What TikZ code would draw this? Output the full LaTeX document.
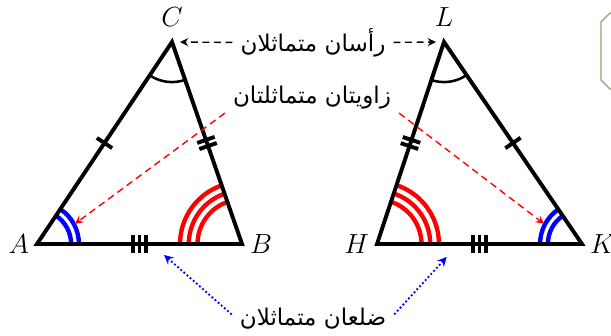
\documentclass[tikz,border=0pt]{standalone}
\usepackage{fontspec}
\newfontfamily\arabicfont[Script=Arabic]{DejaVu Sans}
\TeXXeTstate=1
\usetikzlibrary{calc,angles,decorations.markings}
\definecolor{boxline}{RGB}{160,154,110}
\tikzset{
  side/.style={line width=1.7pt, line join=miter},
  onetick/.style={decorate, decoration={markings,
    mark=at position 0.5 with {\draw[side] (0,-4pt) -- (0,4pt);}}},
  twotick/.style={decorate, decoration={markings,
    mark=at position 0.5 with {\draw[side] (-1.4pt,-4pt) -- (-1.4pt,4pt) (1.4pt,-4pt) -- (1.4pt,4pt);}}},
  threetick/.style={decorate, decoration={markings,
    mark=at position 0.5 with {\draw[side] (-3pt,-4pt) -- (-3pt,4pt) (0,-4pt) -- (0,4pt) (3pt,-4pt) -- (3pt,4pt);}}},
  blueangle/.style={draw=blue, line width=1.9pt},
  redangle/.style={draw=red, line width=1.9pt},
  topangle/.style={draw=black, line width=1.1pt, angle radius=17.4pt},
  vlabel/.style={font=\large},
  arlabel/.style={font=\arabicfont},
  blackarrow/.style={-stealth, densely dashed, line width=0.6pt, shorten >=3.5pt},
  redarrow/.style={-stealth, red, densely dashed, line width=0.6pt},
  bluearrow/.style={-stealth, blue, densely dotted, line width=0.8pt}
}
\begin{document}
\begin{tikzpicture}[x=0.434pt, y=0.434pt]
  \useasboundingbox (0,0) rectangle (611,336);
  % triangle ABC
  \coordinate (A) at (37,92);
  \coordinate (B) at (242,92);
  \coordinate (C) at (172,294);
  % triangle HKL
  \coordinate (H) at (377,92);
  \coordinate (K) at (582,92);
  \coordinate (L) at (444,294);

  % equal angles
  \pic[blueangle, angle radius=14.8pt] {angle=B--A--C};
  \pic[blueangle, angle radius=18.2pt] {angle=B--A--C};
  \pic[blueangle, angle radius=14.8pt] {angle=L--K--H};
  \pic[blueangle, angle radius=18.2pt] {angle=L--K--H};
  \foreach \r in {19.3,23.1,26.9}{
    \pic[redangle, angle radius=\r pt] {angle=C--B--A};
    \pic[redangle, angle radius=\r pt] {angle=K--H--L};
  }
  \pic[topangle] {angle=A--C--B};
  \pic[topangle] {angle=H--L--K};

  % sides
  \draw[side] (A) -- (B) -- (C) -- cycle;
  \path[onetick] (A) -- (C);
  \path[twotick] (C) -- (B);
  \path[threetick] (A) -- (B);
  \draw[side] (H) -- (K) -- (L) -- cycle;
  \path[onetick] (L) -- (K);
  \path[twotick] (H) -- (L);
  \path[threetick] (H) -- (K);

  \node[vlabel, left] (lA) at (A) {$A$};
  \node[vlabel, right] (lB) at (B) {$B$};
  \node[vlabel, above=3pt] (lC) at (C) {$C$};
  \node[vlabel, left] (lH) at (H) {$H$};
  \node[vlabel, right] (lK) at (K) {$K$};
  \node[vlabel, above=3pt] (lL) at (L) {$L$};

  % captions
  \node[arlabel] (top) at (313,293) {\beginR رأسان متماثلان\endR};
  \node[arlabel] (mid) at (312,238) {\beginR زاويتان متماثلتان\endR};
  \node[arlabel] (bot) at (313,17) {\beginR ضلعان متماثلان\endR};

  \coordinate (Am) at ($(A)+(28:43)$);
  \coordinate (Km) at ($(K)+(152:43)$);
  \coordinate (ABm) at ($(A)!0.62!(B)+(0,-11)$);
  \coordinate (HKm) at ($(H)!0.34!(K)+(0,-13)$);

  \draw[blackarrow] (top) -- (C);
  \draw[blackarrow] (top) -- (L);
  \draw[redarrow] ([yshift=2pt]mid.south west) -- (Am);
  \draw[redarrow] ([yshift=2pt]mid.south east) -- (Km);
  \draw[bluearrow] ([yshift=2pt]bot.west) -- (ABm);
  \draw[bluearrow] ([yshift=2pt]bot.east) -- (HKm);

  % box cut at the edge
  \draw[boxline, line width=0.6pt] (625,323) -- (610,323) -- (601,314) -- (601,256) -- (610,247) -- (625,247);
\end{tikzpicture}
\end{document}
